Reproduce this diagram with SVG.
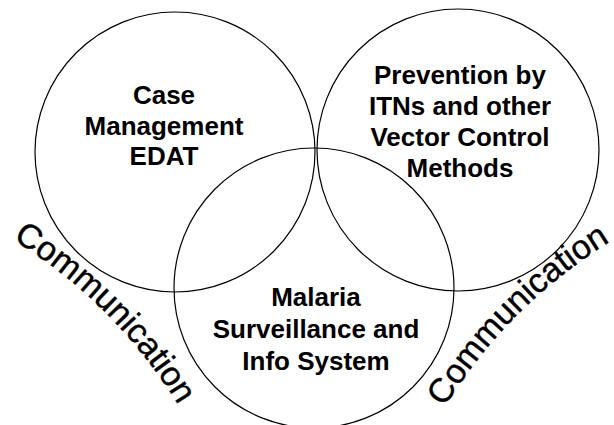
<svg xmlns="http://www.w3.org/2000/svg" width="614" height="425" viewBox="0 0 614 425">
<style>
.c{fill:none;stroke:#000;stroke-width:1.2}
.t{font-family:"Liberation Sans",Arial,sans-serif;font-weight:bold;font-size:26px;text-anchor:middle;fill:#000}
.comm{font-family:"Liberation Sans",Arial,sans-serif;font-size:34px;fill:#000;stroke:#000;stroke-width:0.4}
</style>
<defs>
<path id="arcL" d="M -15 224 A 500 500 0 0 1 194 433"/>
<path id="arcR" d="M 429 435 A 500 500 0 0 1 638 226"/>
</defs>
<rect width="614" height="425" fill="#fff"/>
<g id="case-management">
<circle class="c" cx="175" cy="152" r="140"/>
<text class="t" x="164" y="104">Case</text>
<text class="t" x="164" y="135">Management</text>
<text class="t" x="164" y="165">EDAT</text>
</g>
<g id="prevention">
<circle class="c" cx="458" cy="150" r="141"/>
<text class="t" x="460" y="84">Prevention by</text>
<text class="t" x="460" y="115">ITNs and other</text>
<text class="t" x="460" y="146">Vector Control</text>
<text class="t" x="460" y="177">Methods</text>
</g>
<g id="surveillance">
<circle class="c" cx="314" cy="288" r="140"/>
<text class="t" x="316" y="306">Malaria</text>
<text class="t" x="316" y="338">Surveillance and</text>
<text class="t" x="316" y="370">Info System</text>
</g>
<g id="connectors"></g>
<g id="communication-left">
<text class="comm"><textPath href="#arcL" startOffset="50%" text-anchor="middle">Communication</textPath></text>
</g>
<g id="communication-right">
<text class="comm"><textPath href="#arcR" startOffset="50%" text-anchor="middle">Communication</textPath></text>
</g>
</svg>
